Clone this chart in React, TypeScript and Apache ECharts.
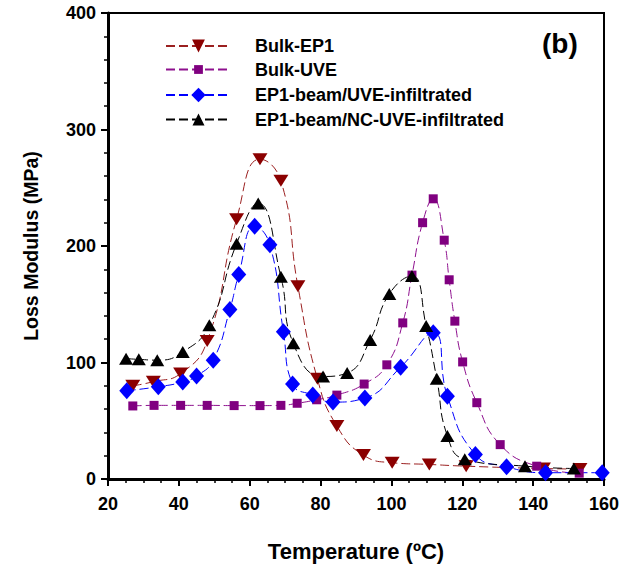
import React, { useEffect, useRef } from "react";
import * as echarts from "echarts";

const seriesNames = [
  "Bulk-EP1",
  "Bulk-UVE",
  "EP1-beam/UVE-infiltrated",
  "EP1-beam/NC-UVE-infiltrated",
];

const bulkEP1: [number, number][] = [
  [27, 80], [32.8, 83.5], [40.5, 90.5], [48, 118.5], [56.3, 223], [62.9, 274.5],
  [68.8, 256], [73.6, 165.5], [79.1, 86], [84.6, 45.5], [92.1, 20.5], [100.2, 14],
  [110.7, 12.5], [121.1, 11], [142.9, 9], [153.2, 8.5],
];

const bulkUVE: [number, number][] = [
  [27, 62.7], [33, 63.2], [40.5, 63.2], [48, 63.2], [55.6, 63], [62.9, 63],
  [68.8, 63.2], [73.4, 65], [78.9, 68], [84.6, 72], [92.3, 81.5], [98.7, 98],
  [103.2, 134], [105.8, 175], [108.8, 220], [111.8, 240.5], [114.9, 205],
  [116.3, 171], [117.9, 135.5], [120.1, 100.5], [124.1, 65.5], [130.7, 29.5],
  [141, 11], [153, 5],
];

const beamUVE: [number, number][] = [
  [25.3, 75.8], [34.2, 79.2], [41.1, 83.3], [45, 88.4], [49.7, 102], [54.4, 145.5],
  [56.9, 175.5], [61.4, 217], [65.7, 201], [69.5, 126.5], [72.1, 81.5], [77.8, 72],
  [83.5, 66], [92.5, 69.5], [102.6, 96], [111.8, 125.5], [115.8, 71], [123.7, 21],
  [132.5, 10.5], [143.5, 5.4], [159.5, 5.4],
];

const beamNCUVE: [number, number][] = [
  [25.1, 103.3], [28.7, 102.7], [33.9, 102], [41.1, 109], [48.6, 132], [56.3, 202],
  [62.4, 236.5], [68.8, 173.5], [72.3, 116.5], [80.7, 88], [87.5, 91], [94, 119.3],
  [99.4, 158.8], [105.8, 174.2], [109.8, 131.3], [112.8, 86], [115.8, 37],
  [120.7, 17], [137.7, 11], [151.5, 9],
];

const FONT = "'Liberation Sans', Arial, sans-serif";

export default function App() {
  const ref = useRef<HTMLDivElement>(null);
  useEffect(() => {
    if (!ref.current) return;
    const chart = echarts.init(ref.current, null, { renderer: "svg" });
    const mk = (
      name: string,
      data: [number, number][],
      color: string,
      lineColor: string,
      symbol: string,
      size: number | number[],
      rotate = 0
    ) => ({
      name,
      type: "line",
      data,
      smooth: 0.5,
      symbol,
      symbolSize: size,
      symbolRotate: rotate,
      itemStyle: { color },
      lineStyle: { color: lineColor, width: 1, type: [9, 4] },
      z: 3,
    });
    const legendTops = [32, 55.5, 81, 105.5];
    const legendIconH = [16, 11, 18, 15];
    const legends = seriesNames.map((n, i) => ({
      left: 160,
      top: legendTops[i],
      orient: "vertical",
      itemWidth: 65,
      itemHeight: legendIconH[i],
      data: [n],
      textStyle: {
        fontFamily: FONT,
        fontWeight: "bold",
        fontSize: 18,
        color: "#000",
        padding: [0, 0, 0, 19],
      },
    }));
    chart.setOption({
      animation: false,
      grid: {
        left: 108,
        right: 27,
        top: 13,
        bottom: 96,
        show: true,
        borderColor: "#000",
        borderWidth: 2,
      },
      legend: legends,
      xAxis: {
        type: "value",
        min: 20,
        max: 160,
        interval: 20,
        name: "Temperature (ºC)",
        nameLocation: "middle",
        nameGap: 61,
        nameTextStyle: { fontFamily: FONT, fontWeight: "bold", fontSize: 22, color: "#000" },
        axisLine: { lineStyle: { color: "#000", width: 3 } },
        axisTick: { length: 7, lineStyle: { width: 2, color: "#000" } },
        minorTick: { show: true, splitNumber: 4, length: 4, lineStyle: { width: 1.5, color: "#000" } },
        axisLabel: { fontFamily: FONT, fontWeight: "bold", fontSize: 18, color: "#000", margin: 16 },
        splitLine: { show: false },
      },
      yAxis: {
        type: "value",
        min: 0,
        max: 400,
        interval: 100,
        name: "Loss Modulus (MPa)",
        nameLocation: "middle",
        nameGap: 67,
        nameTextStyle: { fontFamily: FONT, fontWeight: "bold", fontSize: 19.5, color: "#000" },
        axisLine: { lineStyle: { color: "#000", width: 3 } },
        axisTick: { length: 7, lineStyle: { width: 2, color: "#000" } },
        minorTick: { show: true, splitNumber: 5, length: 4, lineStyle: { width: 1.5, color: "#000" } },
        axisLabel: { fontFamily: FONT, fontWeight: "bold", fontSize: 18, color: "#000", margin: 12 },
        splitLine: { show: false },
      },
      graphic: [
        {
          type: "text",
          left: 542,
          top: 29,
          style: {
            text: "(b)",
            fontFamily: FONT,
            fontWeight: 900,
            fontSize: 28,
            fill: "#000",
          },
        },
      ],
      series: [
        mk(seriesNames[0], bulkEP1, "#8B0000", "#9B2020", "triangle", [15, 12], 180),
        mk(seriesNames[1], bulkUVE, "#800080", "#8E108E", "rect", 9),
        mk(seriesNames[2], beamUVE, "#0000FF", "#0000FF", "diamond", [15, 17]),
        mk(seriesNames[3], beamNCUVE, "#000000", "#000000", "triangle", [14, 12]),
      ],
    });
    return () => chart.dispose();
  }, []);
  return <div ref={ref} style={{ width: 631, height: 575, position: "absolute", left: 0, top: 0, background: "#fff" }} />;
}
